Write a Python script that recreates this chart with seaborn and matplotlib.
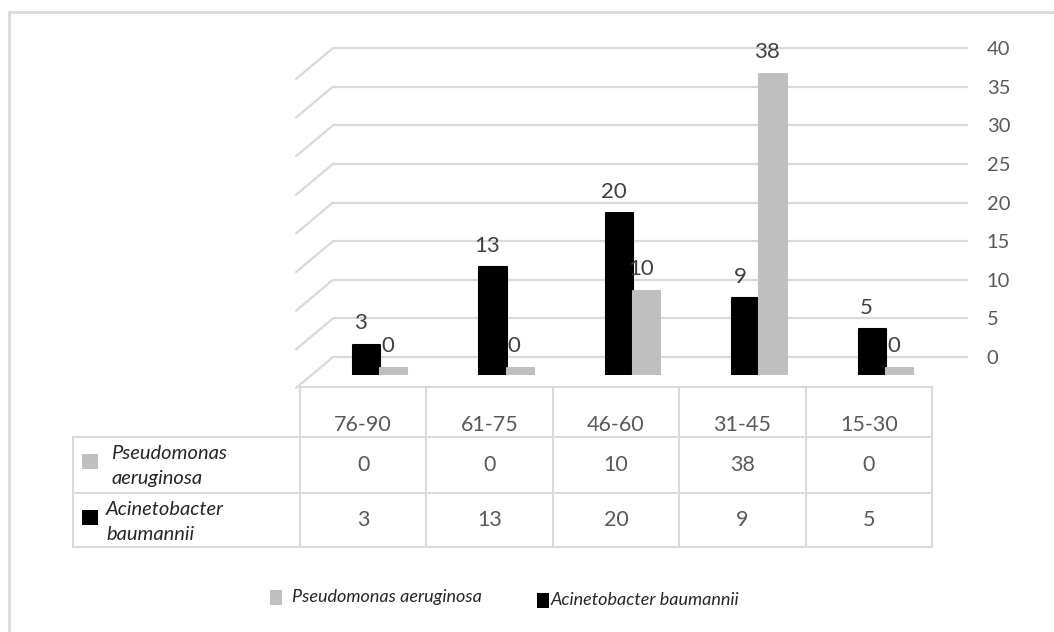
import matplotlib
matplotlib.use("Agg")
import matplotlib.pyplot as plt
from matplotlib.patches import Rectangle
import seaborn as sns
import pandas as pd

# ---- data ----
categories = ["76-90", "61-75", "46-60", "31-45", "15-30"]
pseudomonas = [0, 0, 10, 38, 0]
acinetobacter = [3, 13, 20, 9, 5]
series_names = ["Pseudomonas aeruginosa", "Acinetobacter baumannii"]
table_labels = ["Pseudomonas\naeruginosa", "Acinetobacter\nbaumannii"]
yticks = [0, 5, 10, 15, 20, 25, 30, 35, 40]

sns.set_theme(style="white")
plt.rcParams["font.family"] = ["Lato", "DejaVu Sans"]

W, H = 1054, 632
fig = plt.figure(figsize=(W / 100, H / 100), dpi=100)

def box(x0, y0, x1, y1):
    return [x0 / W, 1 - y1 / H, (x1 - x0) / W, (y1 - y0) / H]

TXT = "#595959"
GRID = "#D9D9D9"
GRAY = "#BFBFBF"
BLACK = "#000000"

# ---- overlay axis (frame, table, legend) ----
ov = fig.add_axes([0, 0, 1, 1], zorder=0)
ov.set_xlim(0, W)
ov.set_ylim(H, 0)
ov.axis("off")
ov.plot([9, 9, W], [H, 12, 12], color=GRID, lw=2, solid_capstyle="butt")

# ---- back wall axis (gridlines + ticks) ----
wall = fig.add_axes(box(333, 40, 968, 375), zorder=1)
wall.set_ylim((357 - 375) / 7.725, (357 - 40) / 7.725)
wall.set_xlim(0, 1)
for s in wall.spines.values():
    s.set_visible(False)
wall.patch.set_alpha(0)
wall.set_xticks([])
wall.yaxis.tick_right()
wall.set_yticks(yticks)
wall.set_yticklabels([str(t) for t in yticks])
wall.tick_params(axis="y", length=0, pad=13.5, labelsize=14.5, labelcolor=TXT)
for lab in wall.get_yticklabels():
    lab.set_horizontalalignment("left")
tr = wall.get_yaxis_transform()
for t in yticks:
    wall.axhline(t, color=GRID, lw=1.6, zorder=0)
    wall.plot([-37 / 635, 0], [t - 31 / 7.725, t], color=GRID, lw=1.6,
              transform=tr, clip_on=False)

# ---- bars axis ----
ax = fig.add_axes(box(317, 40, 949, 375), zorder=2)
ax.patch.set_alpha(0)
df = pd.DataFrame({
    "cat": categories * 2,
    "species": [series_names[1]] * 5 + [series_names[0]] * 5,
    "value": acinetobacter + pseudomonas,
})
sns.barplot(data=df, x="cat", y="value", hue="species",
            hue_order=[series_names[1], series_names[0]],
            order=categories, palette=[BLACK, GRAY],
            width=0.43, gap=0, ax=ax, legend=False, saturation=1)
vbot = -7 / 7.74
ax.set_ylim(vbot, 328 / 7.74)
ax.set_xlim(-0.5, 4.5)
ax.axis("off")
vals_by_container = [acinetobacter, pseudomonas]
for cont, vals in zip(ax.containers, vals_by_container):
    for p, v in zip(cont.patches, vals):
        top = p.get_y() + p.get_height()
        p.set_y(vbot)
        p.set_height(top - vbot)
        p.set_edgecolor(p.get_facecolor())
        p.set_linewidth(1.5)
        p.set_joinstyle("round")
        ax.annotate(str(v), (p.get_x() + p.get_width() / 2, top),
                    xytext=(-4.3, 15.5), textcoords="offset points",
                    ha="center", va="center", fontsize=16, color="#404040")

# ---- data table ----
col_x0 = 300
col_w = (932 - 300) / 5
rows = [387, 437, 493, 547]
lw = 1.5
ov.plot([col_x0, 932], [rows[0]] * 2, color=GRID, lw=lw)
for yy in rows[1:]:
    ov.plot([73, 932], [yy] * 2, color=GRID, lw=lw)
ov.plot([73, 73], [rows[1], rows[3]], color=GRID, lw=lw)
for i in range(6):
    xx = col_x0 + i * col_w
    ov.plot([xx, xx], [rows[0], rows[3]], color=GRID, lw=lw)
for i, c in enumerate(categories):
    cx = col_x0 + (i + 0.5) * col_w
    ov.text(cx, 425, c, ha="center", va="center", fontsize=15.5, color=TXT)
    ov.text(cx, 465, str(pseudomonas[i]), ha="center", va="center",
            fontsize=15.5, color=TXT)
    ov.text(cx, 520, str(acinetobacter[i]), ha="center", va="center",
            fontsize=15.5, color=TXT)
for (yc, col, lab, tx) in [(466, GRAY, table_labels[0], 111),
                           (522, BLACK, table_labels[1], 106)]:
    ov.add_patch(Rectangle((82, yc - 12), 16, 15, color=col, lw=0))
    ov.text(tx, yc, lab, ha="left", va="center", fontsize=14.5,
            style="italic", color="#262626", linespacing=1.6)

# ---- bottom legend ----
ov.add_patch(Rectangle((270, 590), 12, 15, color=GRAY, lw=0))
ov.text(292, 597, series_names[0], ha="left", va="center", fontsize=13,
        style="italic", color="#262626")
ov.add_patch(Rectangle((537, 593), 12, 15, color=BLACK, lw=0))
ov.text(551, 600, series_names[1], ha="left", va="center", fontsize=13,
        style="italic", color="#262626")

fig.savefig("out.png", dpi=100, facecolor="white")
